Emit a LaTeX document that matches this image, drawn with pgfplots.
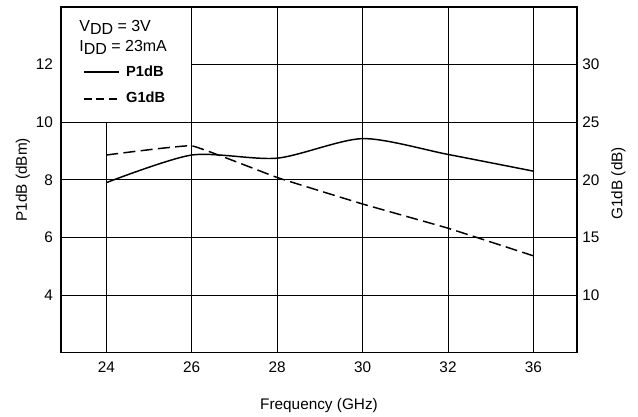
\documentclass[border=0pt]{standalone}
\usepackage{fontspec}
\setmainfont{Liberation Sans}
\usepackage{pgfplots}
\usepackage{pgfplotstable}
\pgfplotsset{compat=1.18}

% frequency positions are evenly spaced categories (labels 24..32, 36)
\pgfplotstableread{
x P G
0 7.90 22.15
1 8.86 22.95
2 8.75 20.20
3 9.43 17.90
4 8.88 15.80
5 8.30 13.40
}\data

\begin{document}
\fontsize{11.5}{13}\selectfont
\begin{tikzpicture}
\pgfplotsset{
  common/.style={
    scale only axis, width=387pt, height=259.3pt,
    xmin=-0.53, xmax=5.51,
    /pgf/number format/assume math mode=true,
    tick label style={font=\fontsize{11.5}{13}\selectfont},
    label style={font=\fontsize{11.5}{13}\selectfont},
    major tick length=0pt,
    axis line style={line width=1.1pt},
  },
}
\path[use as bounding box] (-45.75pt,-48.2pt) rectangle (432.75pt,264.5pt);
\begin{axis}[common,
  ymin=2, ymax=14, ytick={4,6,...,12},
  xtick={0,...,5}, xticklabels={24,26,28,30,32,36},
  xticklabel style={yshift=-3pt},
  yticklabel style={xshift=-2pt},
  grid=major, grid style={black, line width=0.5pt},
  ylabel={P1dB (dBm)},
  ylabel style={at={(axis description cs:-0.074,0.5)}, anchor=center},
  xlabel={Frequency (GHz)},
  xlabel style={at={(axis description cs:0.5,-0.153)}, anchor=center},
  legend style={draw=none, fill=none, at={(axis description cs:0.035,0.847)},
    anchor=north west, row sep=6.5pt, font=\fontsize{11}{13}\selectfont\bfseries,
    /tikz/every odd column/.style={column sep=3pt}},
  legend cell align=left,
  legend image code/.code={\draw[line width=1.1pt, #1] (0pt,0pt) -- (26pt,0pt);},
]
\fill[white] (axis cs:-0.52,10.015) rectangle (axis cs:0.995,13.97);
\addplot[black, line width=1.1pt, smooth, tension=0.45] table[x=x, y=P] {\data};
\addlegendentry{P1dB}
\addlegendimage{black, line width=1.1pt, dash pattern=on 6pt off 3.2pt}
\addlegendentry{G1dB}
\node[anchor=west, align=left, inner sep=0pt, font=\fontsize{12}{14}\selectfont]
  at (axis description cs:0.035,0.94) {V\raisebox{-0.35ex}{DD} = 3V};
\node[anchor=west, align=left, inner sep=0pt, font=\fontsize{12}{14}\selectfont]
  at (axis description cs:0.035,0.883) {I\raisebox{-0.35ex}{DD} = 23mA};
\end{axis}
\begin{axis}[common,
  ymin=5, ymax=35, ytick={10,15,...,30},
  axis y line*=right, axis x line=none,
  ylabel={G1dB (dB)},
  ylabel style={at={(axis description cs:1.080,0.49)}, anchor=center},
]
\addplot[black, line width=1.1pt, dash pattern=on 9pt off 4pt, smooth, tension=0.15] table[x=x, y=G] {\data};
\end{axis}
\end{tikzpicture}
\end{document}
